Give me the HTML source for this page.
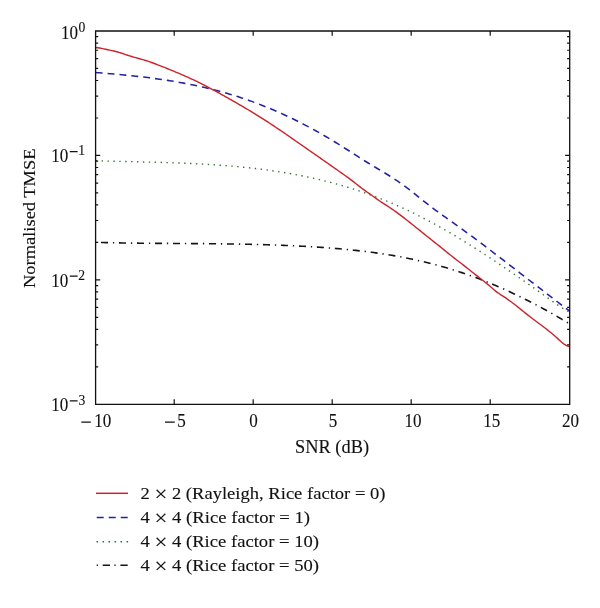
<!DOCTYPE html><html><head><meta charset="utf-8"><style>html,body{margin:0;padding:0;background:#fff;}svg{display:block;will-change:transform;}text{font-family:"Liberation Serif",serif;fill:#111;stroke:#111;stroke-width:0.12px;}</style></head><body>
<svg width="600" height="608" viewBox="0 0 600 608">
<rect width="600" height="608" fill="#fff"/>
<defs><clipPath id="c"><rect x="95.5" y="31" width="474.1" height="373.4"/></clipPath></defs>
<g clip-path="url(#c)" fill="none" stroke-linejoin="round">
<polyline points="95.7,242.36 97.7,242.42 99.7,242.47 101.7,242.52 103.7,242.57 105.7,242.61 107.7,242.66 109.7,242.70 111.7,242.74 113.7,242.78 115.7,242.82 117.7,242.86 119.7,242.89 121.7,242.93 123.7,242.96 125.7,242.99 127.7,243.02 129.7,243.05 131.7,243.08 133.7,243.10 135.7,243.13 137.7,243.15 139.7,243.18 141.7,243.20 143.7,243.22 145.7,243.24 147.7,243.26 149.7,243.28 151.7,243.29 153.7,243.31 155.7,243.33 157.7,243.34 159.7,243.36 161.7,243.37 163.7,243.39 165.7,243.40 167.7,243.42 169.7,243.43 171.7,243.44 173.7,243.46 175.7,243.47 177.7,243.48 179.7,243.50 181.7,243.51 183.7,243.52 185.7,243.54 187.7,243.55 189.7,243.56 191.7,243.58 193.7,243.59 195.7,243.61 197.7,243.62 199.7,243.64 201.7,243.65 203.7,243.67 205.7,243.69 207.7,243.70 209.7,243.72 211.7,243.74 213.7,243.76 215.7,243.78 217.7,243.80 219.7,243.83 221.7,243.85 223.7,243.88 225.7,243.90 227.7,243.93 229.7,243.96 231.7,243.99 233.7,244.02 235.7,244.05 237.7,244.08 239.7,244.12 241.7,244.15 243.7,244.19 245.7,244.23 247.7,244.27 249.7,244.32 251.7,244.36 253.7,244.41 255.7,244.46 257.7,244.51 259.7,244.56 261.7,244.61 263.7,244.67 265.7,244.73 267.7,244.79 269.7,244.85 271.7,244.92 273.7,244.98 275.7,245.05 277.7,245.13 279.7,245.20 281.7,245.28 283.7,245.36 285.7,245.44 287.7,245.52 289.7,245.61 291.7,245.70 293.7,245.79 295.7,245.89 297.7,245.99 299.7,246.09 301.7,246.20 303.7,246.30 305.7,246.41 307.7,246.53 309.7,246.64 311.7,246.76 313.7,246.89 315.7,247.01 317.7,247.14 319.7,247.28 321.7,247.42 323.7,247.56 325.7,247.70 327.7,247.85 329.7,248.00 331.7,248.16 333.7,248.32 335.7,248.48 337.7,248.65 339.7,248.82 341.7,249.00 343.7,249.19 345.7,249.37 347.7,249.57 349.7,249.76 351.7,249.97 353.7,250.18 355.7,250.39 357.7,250.61 359.7,250.84 361.7,251.07 363.7,251.30 365.7,251.55 367.7,251.80 369.7,252.05 371.7,252.31 373.7,252.58 375.7,252.86 377.7,253.14 379.7,253.43 381.7,253.72 383.7,254.03 385.7,254.34 387.7,254.65 389.7,254.98 391.7,255.31 393.7,255.65 395.7,256.00 397.7,256.36 399.7,256.72 401.7,257.09 403.7,257.47 405.7,257.86 407.7,258.26 409.7,258.67 411.7,259.08 413.7,259.51 415.7,259.94 417.7,260.38 419.7,260.83 421.7,261.29 423.7,261.76 425.7,262.24 427.7,262.73 429.7,263.23 431.7,263.74 433.7,264.26 435.7,264.79 437.7,265.33 439.7,265.88 441.7,266.44 443.7,267.01 445.7,267.59 447.7,268.18 449.7,268.79 451.7,269.40 453.7,270.03 455.7,270.66 457.7,271.31 459.7,271.96 461.7,272.63 463.7,273.31 465.7,274.00 467.7,274.70 469.7,275.41 471.7,276.13 473.7,276.86 475.7,277.60 477.7,278.35 479.7,279.11 481.7,279.89 483.7,280.67 485.7,281.46 487.7,282.27 489.7,283.08 491.7,283.91 493.7,284.74 495.7,285.59 497.7,286.44 499.7,287.31 501.7,288.19 503.7,289.07 505.7,289.97 507.7,290.88 509.7,291.80 511.7,292.72 513.7,293.66 515.7,294.61 517.7,295.57 519.7,296.54 521.7,297.52 523.7,298.51 525.7,299.51 527.7,300.52 529.7,301.54 531.7,302.57 533.7,303.61 535.7,304.65 537.7,305.71 539.7,306.78 541.7,307.86 543.7,308.95 545.7,310.04 547.7,311.15 549.7,312.26 551.7,313.39 553.7,314.52 555.7,315.67 557.7,316.82 559.7,317.98 561.7,319.15 563.7,320.33 565.7,321.52 567.7,322.72 569.7,323.92 570.0,324.10" stroke="#151515" stroke-width="1.6" stroke-dasharray="7 4.9 1.3 4.8" stroke-dashoffset="-5.3"/>
<polyline points="95.7,160.75 97.7,160.81 99.7,160.87 101.7,160.92 103.7,160.98 105.7,161.03 107.7,161.09 109.7,161.14 111.7,161.19 113.7,161.24 115.7,161.29 117.7,161.34 119.7,161.39 121.7,161.44 123.7,161.48 125.7,161.53 127.7,161.58 129.7,161.62 131.7,161.67 133.7,161.72 135.7,161.77 137.7,161.81 139.7,161.86 141.7,161.91 143.7,161.96 145.7,162.01 147.7,162.06 149.7,162.11 151.7,162.16 153.7,162.22 155.7,162.27 157.7,162.33 159.7,162.38 161.7,162.44 163.7,162.50 165.7,162.57 167.7,162.63 169.7,162.69 171.7,162.76 173.7,162.83 175.7,162.90 177.7,162.98 179.7,163.05 181.7,163.13 183.7,163.21 185.7,163.29 187.7,163.38 189.7,163.47 191.7,163.56 193.7,163.65 195.7,163.75 197.7,163.85 199.7,163.96 201.7,164.06 203.7,164.17 205.7,164.29 207.7,164.41 209.7,164.53 211.7,164.65 213.7,164.78 215.7,164.92 217.7,165.05 219.7,165.19 221.7,165.34 223.7,165.49 225.7,165.64 227.7,165.80 229.7,165.97 231.7,166.14 233.7,166.31 235.7,166.49 237.7,166.67 239.7,166.86 241.7,167.05 243.7,167.25 245.7,167.46 247.7,167.67 249.7,167.88 251.7,168.10 253.7,168.33 255.7,168.56 257.7,168.80 259.7,169.05 261.7,169.30 263.7,169.55 265.7,169.82 267.7,170.09 269.7,170.36 271.7,170.65 273.7,170.94 275.7,171.23 277.7,171.54 279.7,171.85 281.7,172.17 283.7,172.49 285.7,172.82 287.7,173.16 289.7,173.51 291.7,173.87 293.7,174.23 295.7,174.60 297.7,174.98 299.7,175.36 301.7,175.76 303.7,176.16 305.7,176.57 307.7,176.99 309.7,177.42 311.7,177.85 313.7,178.30 315.7,178.75 317.7,179.21 319.7,179.68 321.7,180.16 323.7,180.65 325.7,181.15 327.7,181.66 329.7,182.17 331.7,182.70 333.7,183.23 335.7,183.78 337.7,184.33 339.7,184.90 341.7,185.47 343.7,186.05 345.7,186.65 347.7,187.25 349.7,187.86 351.7,188.49 353.7,189.12 355.7,189.76 357.7,190.42 359.7,191.08 361.7,191.76 363.7,192.44 365.7,193.14 367.7,193.84 369.7,194.56 371.7,195.29 373.7,196.03 375.7,196.78 377.7,197.54 379.7,198.31 381.7,199.10 383.7,199.89 385.7,200.70 387.7,201.51 389.7,202.34 391.7,203.18 393.7,204.04 395.7,204.90 397.7,205.77 399.7,206.66 401.7,207.56 403.7,208.47 405.7,209.40 407.7,210.33 409.7,211.28 411.7,212.24 413.7,213.21 415.7,214.20 417.7,215.20 419.7,216.20 421.7,217.23 423.7,218.26 425.7,219.30 427.7,220.36 429.7,221.43 431.7,222.50 433.7,223.59 435.7,224.69 437.7,225.80 439.7,226.92 441.7,228.05 443.7,229.19 445.7,230.34 447.7,231.50 449.7,232.67 451.7,233.84 453.7,235.03 455.7,236.22 457.7,237.43 459.7,238.64 461.7,239.86 463.7,241.09 465.7,242.32 467.7,243.57 469.7,244.82 471.7,246.08 473.7,247.34 475.7,248.62 477.7,249.89 479.7,251.18 481.7,252.47 483.7,253.77 485.7,255.08 487.7,256.39 489.7,257.70 491.7,259.02 493.7,260.35 495.7,261.68 497.7,263.02 499.7,264.36 501.7,265.71 503.7,267.06 505.7,268.41 507.7,269.77 509.7,271.14 511.7,272.50 513.7,273.88 515.7,275.25 517.7,276.63 519.7,278.02 521.7,279.41 523.7,280.80 525.7,282.20 527.7,283.61 529.7,285.01 531.7,286.43 533.7,287.84 535.7,289.26 537.7,290.69 539.7,292.12 541.7,293.55 543.7,294.99 545.7,296.44 547.7,297.89 549.7,299.34 551.7,300.79 553.7,302.22 555.7,303.63 557.7,305.01 559.7,306.35 561.7,307.65 563.7,308.88 565.7,310.05 567.7,311.14 569.7,312.14 570.0,312.29" stroke="#357535" stroke-width="1.4" stroke-dasharray="1.4 4.5"/>
<polyline points="95.7,72.52 97.7,72.67 99.7,72.83 101.7,72.99 103.7,73.15 105.7,73.31 107.7,73.48 109.7,73.65 111.7,73.82 113.7,74.00 115.7,74.18 117.7,74.36 119.7,74.54 121.7,74.73 123.7,74.92 125.7,75.12 127.7,75.32 129.7,75.53 131.7,75.74 133.7,75.95 135.7,76.17 137.7,76.39 139.7,76.62 141.7,76.85 143.7,77.09 145.7,77.33 147.7,77.58 149.7,77.83 151.7,78.09 153.7,78.36 155.7,78.63 157.7,78.91 159.7,79.19 161.7,79.48 163.7,79.78 165.7,80.08 167.7,80.39 169.7,80.71 171.7,81.03 173.7,81.36 175.7,81.70 177.7,82.05 179.7,82.40 181.7,82.76 183.7,83.13 185.7,83.51 187.7,83.90 189.7,84.29 191.7,84.69 193.7,85.10 195.7,85.52 197.7,85.95 199.7,86.39 201.7,86.84 203.7,87.29 205.7,87.76 207.7,88.23 209.7,88.72 211.7,89.21 213.7,89.72 215.7,90.23 217.7,90.76 219.7,91.30 221.7,91.84 223.7,92.40 225.7,92.97 227.7,93.55 229.7,94.14 231.7,94.74 233.7,95.35 235.7,95.97 237.7,96.61 239.7,97.26 241.7,97.92 243.7,98.59 245.7,99.27 247.7,99.96 249.7,100.67 251.7,101.39 253.7,102.12 255.7,102.86 257.7,103.62 259.7,104.38 261.7,105.16 263.7,105.95 265.7,106.75 267.7,107.57 269.7,108.39 271.7,109.23 273.7,110.08 275.7,110.95 277.7,111.82 279.7,112.71 281.7,113.61 283.7,114.52 285.7,115.45 287.7,116.38 289.7,117.33 291.7,118.29 293.7,119.27 295.7,120.25 297.7,121.25 299.7,122.26 301.7,123.29 303.7,124.32 305.7,125.37 307.7,126.43 309.7,127.50 311.7,128.58 313.7,129.68 315.7,130.79 317.7,131.91 319.7,133.04 321.7,134.18 323.7,135.33 325.7,136.50 327.7,137.67 329.7,138.86 331.7,140.05 333.7,141.26 335.7,142.48 337.7,143.71 339.7,144.95 341.7,146.20 343.7,147.46 345.7,148.73 347.7,150.00 349.7,151.29 351.7,152.58 353.7,153.86 355.7,155.15 357.7,156.44 359.7,157.71 361.7,158.98 363.7,160.24 365.7,161.49 367.7,162.72 369.7,163.94 371.7,165.14 373.7,166.34 375.7,167.53 377.7,168.72 379.7,169.91 381.7,171.10 383.7,172.30 385.7,173.51 387.7,174.74 389.7,175.98 391.7,177.24 393.7,178.53 395.7,179.84 397.7,181.18 399.7,182.56 401.7,183.97 403.7,185.42 405.7,186.91 407.7,188.42 409.7,189.97 411.7,191.53 413.7,193.11 415.7,194.70 417.7,196.29 419.7,197.89 421.7,199.49 423.7,201.08 425.7,202.66 427.7,204.22 429.7,205.77 431.7,207.29 433.7,208.80 435.7,210.28 437.7,211.74 439.7,213.19 441.7,214.62 443.7,216.05 445.7,217.47 447.7,218.88 449.7,220.29 451.7,221.71 453.7,223.12 455.7,224.55 457.7,225.98 459.7,227.41 461.7,228.86 463.7,230.31 465.7,231.77 467.7,233.24 469.7,234.71 471.7,236.19 473.7,237.68 475.7,239.17 477.7,240.66 479.7,242.16 481.7,243.67 483.7,245.18 485.7,246.69 487.7,248.21 489.7,249.73 491.7,251.25 493.7,252.78 495.7,254.31 497.7,255.85 499.7,257.38 501.7,258.92 503.7,260.46 505.7,262.00 507.7,263.54 509.7,265.08 511.7,266.62 513.7,268.16 515.7,269.71 517.7,271.25 519.7,272.79 521.7,274.33 523.7,275.88 525.7,277.42 527.7,278.96 529.7,280.50 531.7,282.04 533.7,283.58 535.7,285.11 537.7,286.65 539.7,288.19 541.7,289.73 543.7,291.26 545.7,292.80 547.7,294.33 549.7,295.87 551.7,297.40 553.7,298.94 555.7,300.47 557.7,302.01 559.7,303.54 561.7,305.07 563.7,306.60 565.7,308.13 567.7,309.66 569.7,311.19 570.0,311.42" stroke="#2222a6" stroke-width="1.55" stroke-dasharray="6.9 5.03"/>
<polyline points="95.7,47.48 97.7,47.71 99.7,48.03 101.7,48.40 103.7,48.82 105.7,49.26 107.7,49.71 109.7,50.15 111.7,50.58 113.7,51.03 115.7,51.51 117.7,52.04 119.7,52.63 121.7,53.27 123.7,53.94 125.7,54.62 127.7,55.27 129.7,55.90 131.7,56.50 133.7,57.08 135.7,57.65 137.7,58.21 139.7,58.77 141.7,59.34 143.7,59.92 145.7,60.53 147.7,61.16 149.7,61.83 151.7,62.53 153.7,63.26 155.7,64.01 157.7,64.78 159.7,65.56 161.7,66.35 163.7,67.14 165.7,67.94 167.7,68.75 169.7,69.56 171.7,70.38 173.7,71.20 175.7,72.03 177.7,72.87 179.7,73.72 181.7,74.58 183.7,75.45 185.7,76.34 187.7,77.23 189.7,78.14 191.7,79.06 193.7,79.99 195.7,80.94 197.7,81.91 199.7,82.89 201.7,83.89 203.7,84.90 205.7,85.92 207.7,86.96 209.7,88.01 211.7,89.07 213.7,90.14 215.7,91.22 217.7,92.32 219.7,93.42 221.7,94.53 223.7,95.65 225.7,96.77 227.7,97.90 229.7,99.04 231.7,100.18 233.7,101.33 235.7,102.48 237.7,103.63 239.7,104.80 241.7,105.96 243.7,107.14 245.7,108.32 247.7,109.50 249.7,110.70 251.7,111.91 253.7,113.12 255.7,114.35 257.7,115.58 259.7,116.83 261.7,118.09 263.7,119.36 265.7,120.64 267.7,121.94 269.7,123.24 271.7,124.56 273.7,125.89 275.7,127.23 277.7,128.57 279.7,129.93 281.7,131.29 283.7,132.65 285.7,134.03 287.7,135.41 289.7,136.79 291.7,138.17 293.7,139.56 295.7,140.95 297.7,142.35 299.7,143.74 301.7,145.14 303.7,146.53 305.7,147.92 307.7,149.32 309.7,150.71 311.7,152.11 313.7,153.50 315.7,154.90 317.7,156.29 319.7,157.69 321.7,159.09 323.7,160.49 325.7,161.88 327.7,163.28 329.7,164.68 331.7,166.09 333.7,167.49 335.7,168.89 337.7,170.30 339.7,171.70 341.7,173.11 343.7,174.53 345.7,175.96 347.7,177.41 349.7,178.88 351.7,180.37 353.7,181.90 355.7,183.45 357.7,185.04 359.7,186.62 361.7,188.18 363.7,189.68 365.7,191.12 367.7,192.51 369.7,193.90 371.7,195.29 373.7,196.73 375.7,198.17 377.7,199.61 379.7,201.00 381.7,202.34 383.7,203.65 385.7,204.93 387.7,206.21 389.7,207.52 391.7,208.86 393.7,210.25 395.7,211.67 397.7,213.12 399.7,214.60 401.7,216.12 403.7,217.65 405.7,219.21 407.7,220.78 409.7,222.37 411.7,223.97 413.7,225.57 415.7,227.19 417.7,228.80 419.7,230.41 421.7,232.02 423.7,233.62 425.7,235.22 427.7,236.82 429.7,238.41 431.7,240.01 433.7,241.61 435.7,243.21 437.7,244.81 439.7,246.42 441.7,248.04 443.7,249.66 445.7,251.27 447.7,252.88 449.7,254.48 451.7,256.06 453.7,257.62 455.7,259.18 457.7,260.72 459.7,262.27 461.7,263.81 463.7,265.36 465.7,266.92 467.7,268.49 469.7,270.07 471.7,271.68 473.7,273.29 475.7,274.87 477.7,276.42 479.7,277.96 481.7,279.51 483.7,281.07 485.7,282.68 487.7,284.34 489.7,286.05 491.7,287.76 493.7,289.46 495.7,291.09 497.7,292.63 499.7,294.04 501.7,295.35 503.7,296.63 505.7,297.94 507.7,299.31 509.7,300.75 511.7,302.23 513.7,303.76 515.7,305.32 517.7,306.90 519.7,308.51 521.7,310.12 523.7,311.73 525.7,313.33 527.7,314.92 529.7,316.48 531.7,318.01 533.7,319.51 535.7,321.01 537.7,322.49 539.7,323.98 541.7,325.48 543.7,326.99 545.7,328.52 547.7,330.08 549.7,331.68 551.7,333.33 553.7,335.03 555.7,336.80 557.7,338.62 559.7,340.47 561.7,342.25 563.7,343.86 565.7,345.20 567.7,346.19 569.7,346.71 570.0,346.75" stroke="#cc2229" stroke-width="1.4"/>
</g>
<path d="M95.6,31.0H569.7V404.4H95.6Z" fill="none" stroke="#111" stroke-width="1.3"/>
<path d="M174.20,404.4v-5.2M174.20,31.0v4.8M253.20,404.4v-5.2M253.20,31.0v4.8M332.20,404.4v-5.2M332.20,31.0v4.8M411.20,404.4v-5.2M411.20,31.0v4.8M490.20,404.4v-5.2M490.20,31.0v4.8M95.6,117.98h2.6M569.7,117.98h-2.6M95.6,96.06h2.6M569.7,96.06h-2.6M95.6,80.52h2.6M569.7,80.52h-2.6M95.6,68.46h2.6M569.7,68.46h-2.6M95.6,58.61h2.6M569.7,58.61h-2.6M95.6,50.27h2.6M569.7,50.27h-2.6M95.6,43.06h2.6M569.7,43.06h-2.6M95.6,36.69h2.6M569.7,36.69h-2.6M95.6,242.41h2.6M569.7,242.41h-2.6M95.6,220.50h2.6M569.7,220.50h-2.6M95.6,204.95h2.6M569.7,204.95h-2.6M95.6,192.89h2.6M569.7,192.89h-2.6M95.6,183.04h2.6M569.7,183.04h-2.6M95.6,174.71h2.6M569.7,174.71h-2.6M95.6,167.49h2.6M569.7,167.49h-2.6M95.6,161.13h2.6M569.7,161.13h-2.6M95.6,366.84h2.6M569.7,366.84h-2.6M95.6,344.93h2.6M569.7,344.93h-2.6M95.6,329.38h2.6M569.7,329.38h-2.6M95.6,317.32h2.6M569.7,317.32h-2.6M95.6,307.47h2.6M569.7,307.47h-2.6M95.6,299.14h2.6M569.7,299.14h-2.6M95.6,291.93h2.6M569.7,291.93h-2.6M95.6,285.56h2.6M569.7,285.56h-2.6M95.6,155.43h4.6M569.7,155.43h-4.6M95.6,279.87h4.6M569.7,279.87h-4.6" stroke="#111" stroke-width="1.2" fill="none"/>
<text x="102.8" y="426.7" font-size="18.5" text-anchor="middle" textLength="17.02" lengthAdjust="spacingAndGlyphs">10</text>
<text x="181.5" y="426.7" font-size="18.5" text-anchor="middle" textLength="8.51" lengthAdjust="spacingAndGlyphs">5</text>
<text x="253.4" y="426.7" font-size="18.5" text-anchor="middle" textLength="8.51" lengthAdjust="spacingAndGlyphs">0</text>
<text x="333.05" y="426.7" font-size="18.5" text-anchor="middle" textLength="8.51" lengthAdjust="spacingAndGlyphs">5</text>
<text x="412.9" y="426.7" font-size="18.5" text-anchor="middle" textLength="17.02" lengthAdjust="spacingAndGlyphs">10</text>
<text x="491.8" y="426.7" font-size="18.5" text-anchor="middle" textLength="17.02" lengthAdjust="spacingAndGlyphs">15</text>
<text x="570.5" y="426.7" font-size="18.5" text-anchor="middle" textLength="17.02" lengthAdjust="spacingAndGlyphs">20</text>
<text x="69.55" y="38.7" font-size="18.5" text-anchor="middle" textLength="17.02" lengthAdjust="spacingAndGlyphs">10</text>
<text x="81.95" y="31.8" font-size="13.6" text-anchor="middle" textLength="6.80" lengthAdjust="spacingAndGlyphs">0</text>
<text x="59.7" y="161.8" font-size="18.5" text-anchor="middle" textLength="17.02" lengthAdjust="spacingAndGlyphs">10</text>
<text x="81.7" y="155.4" font-size="13.6" text-anchor="middle" textLength="6.80" lengthAdjust="spacingAndGlyphs">1</text>
<text x="59.7" y="286.6" font-size="18.5" text-anchor="middle" textLength="17.02" lengthAdjust="spacingAndGlyphs">10</text>
<text x="81.7" y="279.5" font-size="13.6" text-anchor="middle" textLength="6.80" lengthAdjust="spacingAndGlyphs">2</text>
<text x="59.7" y="410.8" font-size="18.5" text-anchor="middle" textLength="17.02" lengthAdjust="spacingAndGlyphs">10</text>
<text x="81.95" y="404.5" font-size="13.6" text-anchor="middle" textLength="6.80" lengthAdjust="spacingAndGlyphs">3</text>
<path d="M81.3,422.1H90.8M165.0,422.1H174.8M69.8,151.7H77.6M69.8,276.2H77.6M69.8,400.8H77.6" stroke="#111" stroke-width="1.25" fill="none"/>
<text x="295" y="453" font-size="18" textLength="74" lengthAdjust="spacingAndGlyphs">SNR (dB)</text>
<text transform="translate(35.4,288) rotate(-90)" x="0" y="0" font-size="17.5" textLength="139.5" lengthAdjust="spacingAndGlyphs">Normalised TMSE</text>
<g fill="none">
<line x1="96" y1="493.3" x2="128" y2="493.3" stroke="#cc2229" stroke-width="1.5"/>
<line x1="96.7" y1="517.5" x2="128" y2="517.5" stroke="#2222a6" stroke-width="1.7" stroke-dasharray="7 5"/>
<line x1="96.5" y1="541.7" x2="128.5" y2="541.7" stroke="#357535" stroke-width="1.6" stroke-dasharray="1.6 4.4"/>
<line x1="96.7" y1="565.3" x2="128" y2="565.3" stroke="#151515" stroke-width="1.6" stroke-dasharray="1.2 4.8 7.3 4.4"/>
</g>
<text x="140.5" y="499.3" font-size="17.5" textLength="245" lengthAdjust="spacingAndGlyphs">2 <tspan font-size="21.5" dy="2">×</tspan><tspan dy="-2"> 2 (Rayleigh, Rice factor = 0)</tspan></text>
<text x="140.5" y="523.3" font-size="17.5" textLength="169.6" lengthAdjust="spacingAndGlyphs">4 <tspan font-size="21.5" dy="2">×</tspan><tspan dy="-2"> 4 (Rice factor = 1)</tspan></text>
<text x="140.5" y="547" font-size="17.5" textLength="178.5" lengthAdjust="spacingAndGlyphs">4 <tspan font-size="21.5" dy="2">×</tspan><tspan dy="-2"> 4 (Rice factor = 10)</tspan></text>
<text x="140.5" y="570.5" font-size="17.5" textLength="178.5" lengthAdjust="spacingAndGlyphs">4 <tspan font-size="21.5" dy="2">×</tspan><tspan dy="-2"> 4 (Rice factor = 50)</tspan></text>
</svg></body></html>
